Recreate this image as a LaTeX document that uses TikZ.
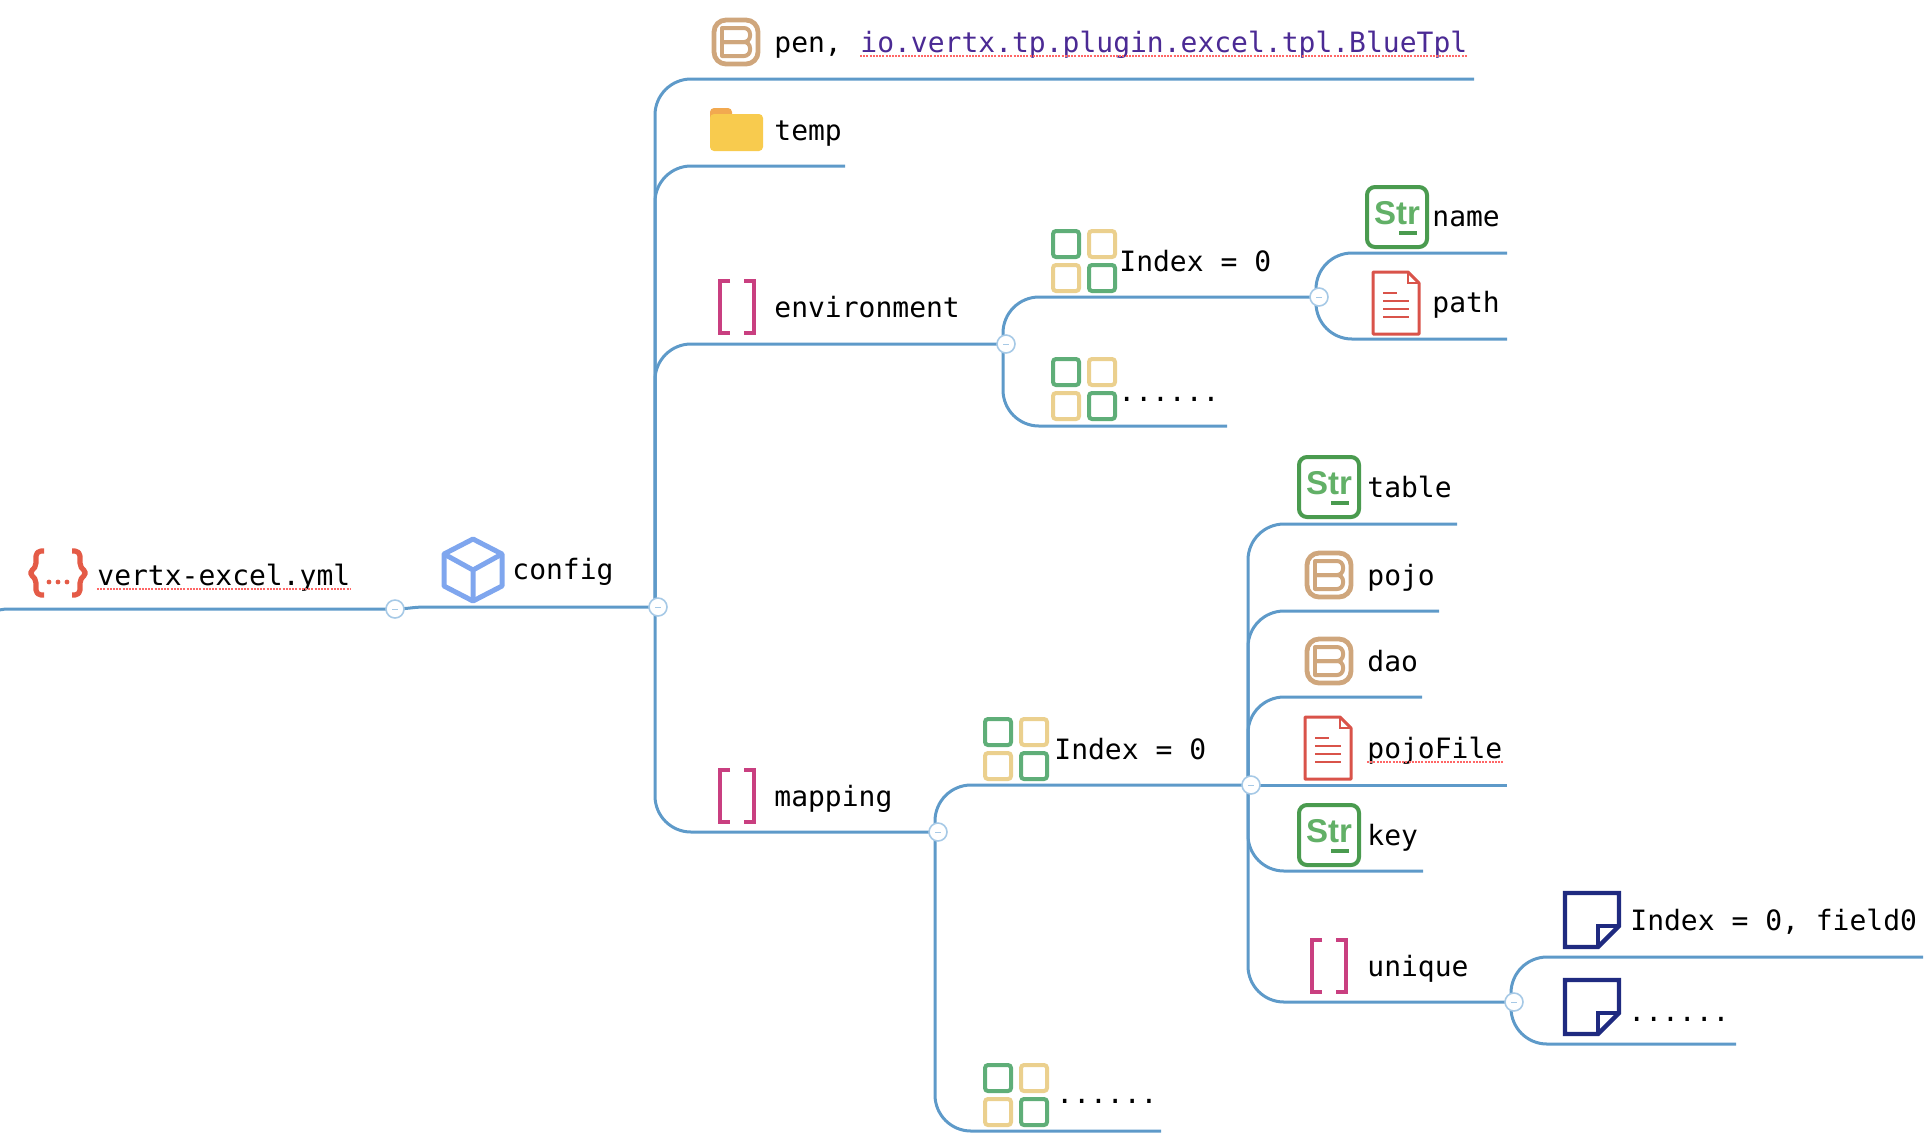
\documentclass[tikz,border=0pt]{standalone}
\usepackage{fontspec}
\setmonofont{DejaVu Sans Mono}
\newfontfamily\iconfont{Liberation Sans}
\usetikzlibrary{backgrounds}
\definecolor{branchblue}{HTML}{5E9AC9}
\definecolor{knobblue}{HTML}{A6C9E6}
\definecolor{beantan}{HTML}{CFA67C}
\definecolor{foldyellow}{HTML}{F8CB4E}
\definecolor{foldorange}{HTML}{F2A950}
\definecolor{listpink}{HTML}{C93F80}
\definecolor{cubeblue}{HTML}{7FA6EE}
\definecolor{bracered}{HTML}{E45B47}
\definecolor{gridgreen}{HTML}{5FAE78}
\definecolor{gridtan}{HTML}{EBD08E}
\definecolor{strgreen}{HTML}{4A9B4F}
\definecolor{strlight}{HTML}{62B067}
\definecolor{docred}{HTML}{D9534A}
\definecolor{notenavy}{HTML}{1F2A80}
\definecolor{linkpurple}{HTML}{4B2A94}
\tikzset{
  every node/.style={
    font=\ttfamily\fontsize{14}{16}\selectfont,
    inner sep=0pt
  },
  keytext/.style={
    anchor=base west,
    text=black
  },
  linktext/.style={
    keytext,
    text=linkpurple
  },
  branch/.style={
    draw=branchblue,
    line width=1.5pt,
    rounded corners=18pt
  },
  spell/.style={
    draw=red!60,
    line width=1pt,
    dash pattern=on 1pt off 0.6pt
  },
  knob/.style={
    shape=circle,
    draw=knobblue,
    line width=0.8pt,
    fill=white,
    minimum size=9pt,
    path picture={
      \draw[knobblue,line width=0.5pt] ([xshift=-1.5pt]path picture bounding box.center)
        -- ([xshift=1.5pt]path picture bounding box.center);
    }
  },
  beanicon/.pic={
    \draw[beantan,line width=2.4pt,rounded corners=6pt] (-22,-22) rectangle (22,22);
    \draw[beantan,line width=2pt,rounded corners=3pt] (-14,-14) -- (14,-14) -- (14,0) -- (-14,0);
    \draw[beantan,line width=2pt,rounded corners=3pt] (-14,0) -- (14,0) -- (14,14) -- (-14,14);
    \draw[beantan,line width=2pt,line cap=round] (-14,-14) -- (-14,14);
  },
  foldericon/.pic={
    \fill[foldorange,rounded corners=2pt] (-26,-22) rectangle (-4,-8);
    \fill[foldyellow,rounded corners=2pt] (-26,-16) rectangle (27,21);
  },
  listicon/.pic={
    \draw[listpink,line width=2.4pt] (-7,-26) -- (-17,-26) -- (-17,26) -- (-7,26);
    \draw[listpink,line width=2.4pt] (7,-26) -- (17,-26) -- (17,26) -- (7,26);
  },
  cubeicon/.pic={
    \draw[cubeblue,line width=2.5pt,line join=round] (0,-31) -- (29,-16) -- (29,16) -- (0,31)
      -- (-29,16) -- (-29,-16) -- cycle;
    \draw[cubeblue,line width=2.5pt,line join=round] (-29,-16) -- (0,0) -- (29,-16) (0,0) -- (0,31);
  },
  braceicon/.pic={
    \draw[bracered,line width=2.6pt,line join=round,rounded corners=2.5pt] (-14,-22) -- (-22,-22)
      -- (-22,-5) -- (-30,0) -- (-22,5) -- (-22,22) -- (-14,22);
    \draw[bracered,line width=2.6pt,line join=round,rounded corners=2.5pt] (14,-22) -- (22,-22)
      -- (22,-5) -- (30,0) -- (22,5) -- (22,22) -- (14,22);
    \foreach \dx in {-9,0,9}
      \fill[bracered] (\dx,9) circle (1.2pt);
  },
  gridicon/.pic={
    \draw[gridgreen,line width=2pt,rounded corners=1.5pt] (-31,-30) rectangle (-5,-4);
    \draw[gridtan,line width=2pt,rounded corners=1.5pt] (5,-30) rectangle (31,-4);
    \draw[gridtan,line width=2pt,rounded corners=1.5pt] (-31,4) rectangle (-5,30);
    \draw[gridgreen,line width=2pt,rounded corners=1.5pt] (5,4) rectangle (31,30);
  },
  stricon/.pic={
    \draw[strgreen,line width=2pt,rounded corners=4pt] (-30,-30) rectangle (30,30);
    \node[font=\iconfont\bfseries\fontsize{16.5}{18}\selectfont,text=strlight] (-word) at (0,-4) {Str};
    \draw[strgreen,line width=2pt] (2,16) -- (20,16);
  },
  docicon/.pic={
    \draw[docred,line width=1.5pt,line join=round] (-23,-31) -- (12,-31) -- (23,-20) -- (23,31)
      -- (-23,31) -- cycle;
    \draw[docred,line width=1.2pt] (12,-31) -- (12,-20) -- (23,-20);
    \draw[docred,line width=1.3pt] (-13,-10) -- (1,-10) (-13,-2) -- (13,-2) (-13,6) -- (13,6) (-13,14) -- (13,14);
  },
  noteicon/.pic={
    \draw[notenavy,line width=2.2pt,line join=miter] (-27,-27) -- (27,-27) -- (27,6) -- (6,27)
      -- (-27,27) -- cycle;
    \draw[notenavy,line width=2.2pt] (27,6) -- (6,6) -- (6,27);
  }
}
\begin{document}
\begin{tikzpicture}[x=0.5pt,y=-0.5pt]
  \useasboundingbox (0,0) rectangle (1926,1132);

  \pic (iconroot) at (58,573) {braceicon};
  \node [keytext] (nroot) at (97,585) {vertx-excel.yml};
  \pic (iconcfg) at (473,570) {cubeicon};
  \node [keytext] (ncfg) at (512,579) {config};

  \pic (iconpen) at (736,42) {beanicon};
  \node [keytext] (npen) at (774,52) {pen,};
  \node [linktext] (nlink) at (860,52) {io.vertx.tp.plugin.excel.tpl.BlueTpl};
  \pic (icontemp) at (736,130) {foldericon};
  \node [keytext] (ntemp) at (774,140) {temp};
  \pic (iconenv) at (737,307) {listicon};
  \node [keytext] (nenv) at (774,317) {environment};
  \pic (iconmap) at (737,796) {listicon};
  \node [keytext] (nmap) at (774,806) {mapping};

  \pic (gridenv) at (1084,261) {gridicon};
  \node [keytext] (nenvidx) at (1119,271) {Index = 0};
  \pic (gridenvb) at (1084,389) {gridicon};
  \node [keytext] (nenvdots) at (1118,401) {......};
  \pic (iconname) at (1397,217) {stricon};
  \node [keytext] (nname) at (1432,226) {name};
  \pic (iconpath) at (1396,303) {docicon};
  \node [keytext] (npath) at (1432,312) {path};

  \pic (gridmap) at (1016,749) {gridicon};
  \node [keytext] (nmapidx) at (1054,759) {Index = 0};
  \pic (gridmapb) at (1016,1095) {gridicon};
  \node [keytext] (nmapdots) at (1056,1103) {......};
  \pic (icontable) at (1329,487) {stricon};
  \node [keytext] (ntable) at (1367,497) {table};
  \pic (iconpojo) at (1329,575) {beanicon};
  \node [keytext] (npojo) at (1367,585) {pojo};
  \pic (icondao) at (1329,661) {beanicon};
  \node [keytext] (ndao) at (1367,671) {dao};
  \pic (iconfile) at (1328,748) {docicon};
  \node [keytext] (nfile) at (1367,758) {pojoFile};
  \pic (iconkey) at (1329,835) {stricon};
  \node [keytext] (nkey) at (1367,845) {key};
  \pic (iconuniq) at (1329,966) {listicon};
  \node [keytext] (nuniq) at (1367,976) {unique};
  \pic (noteidx) at (1592,920) {noteicon};
  \node [keytext] (nfield) at (1630,930) {Index = 0, field0};
  \pic (notedots) at (1592,1007) {noteicon};
  \node [keytext] (nnotedots) at (1628,1021) {......};

  \node [knob] (jroot) at (395,609) {};
  \node [knob] (jcfg) at (658,607) {};
  \node [knob] (jenv) at (1006,344) {};
  \node [knob] (jenvidx) at (1319,297) {};
  \node [knob] (jmap) at (938,832) {};
  \node [knob] (jmapidx) at (1251,785) {};
  \node [knob] (juniq) at (1514,1002) {};

  \coordinate (oroot) at (-28,660);
  \coordinate (kcfg) at (425,607);
  \coordinate (epen) at (1474,79);
  \coordinate (etemp) at (845,166);
  \coordinate (eenvdots) at (1227,426);
  \coordinate (ename) at (1507,253);
  \coordinate (epath) at (1507,339);
  \coordinate (emapdots) at (1161,1131);
  \coordinate (etable) at (1457,524);
  \coordinate (epojo) at (1439,611);
  \coordinate (edao) at (1422,697);
  \coordinate (efile) at (1507,785);
  \coordinate (ekey) at (1423,871);
  \coordinate (efield) at (1923,957);
  \coordinate (enotedots) at (1736,1044);

  \begin{scope}[on background layer]
    \draw [branch] (oroot) |- (jroot.center);
    \draw [branch,rounded corners=0pt] (jroot.center) to [out=0,in=180] (kcfg) -- (jcfg.center);
    \draw [branch] ([xshift=-1.5pt]jcfg.center) |- (epen);
    \draw [branch] ([xshift=-1.5pt]jcfg.center) |- (etemp);
    \draw [branch] ([xshift=-1.5pt]jcfg.center) |- (jenv.center);
    \draw [branch] ([xshift=-1.5pt]jcfg.center) |- (jmap.center);
    \draw [branch] ([xshift=-1.5pt]jenv.center) |- (jenvidx.center);
    \draw [branch] ([xshift=-1.5pt]jenv.center) |- (eenvdots);
    \draw [branch] ([xshift=-1.5pt]jenvidx.center) |- (ename);
    \draw [branch] ([xshift=-1.5pt]jenvidx.center) |- (epath);
    \draw [branch] ([xshift=-1.5pt]jmap.center) |- (jmapidx.center);
    \draw [branch] ([xshift=-1.5pt]jmap.center) |- (emapdots);
    \draw [branch] ([xshift=-1.5pt]jmapidx.center) |- (etable);
    \draw [branch] ([xshift=-1.5pt]jmapidx.center) |- (epojo);
    \draw [branch] ([xshift=-1.5pt]jmapidx.center) |- (edao);
    \draw [branch] (jmapidx.center) -- (efile);
    \draw [branch] ([xshift=-1.5pt]jmapidx.center) |- (ekey);
    \draw [branch] ([xshift=-1.5pt]jmapidx.center) |- (juniq.center);
    \draw [branch] ([xshift=-1.5pt]juniq.center) |- (efield);
    \draw [branch] ([xshift=-1.5pt]juniq.center) |- (enotedots);
  \end{scope}

  \draw [spell] ([yshift=-2pt]nroot.base west) -- ([yshift=-2pt]nroot.base east);
  \draw [spell] ([yshift=-2pt]nlink.base west) -- ([yshift=-2pt]nlink.base east);
  \draw [spell] ([yshift=-2pt]nfile.base west) -- ([yshift=-2pt]nfile.base east);
\end{tikzpicture}
\end{document}
